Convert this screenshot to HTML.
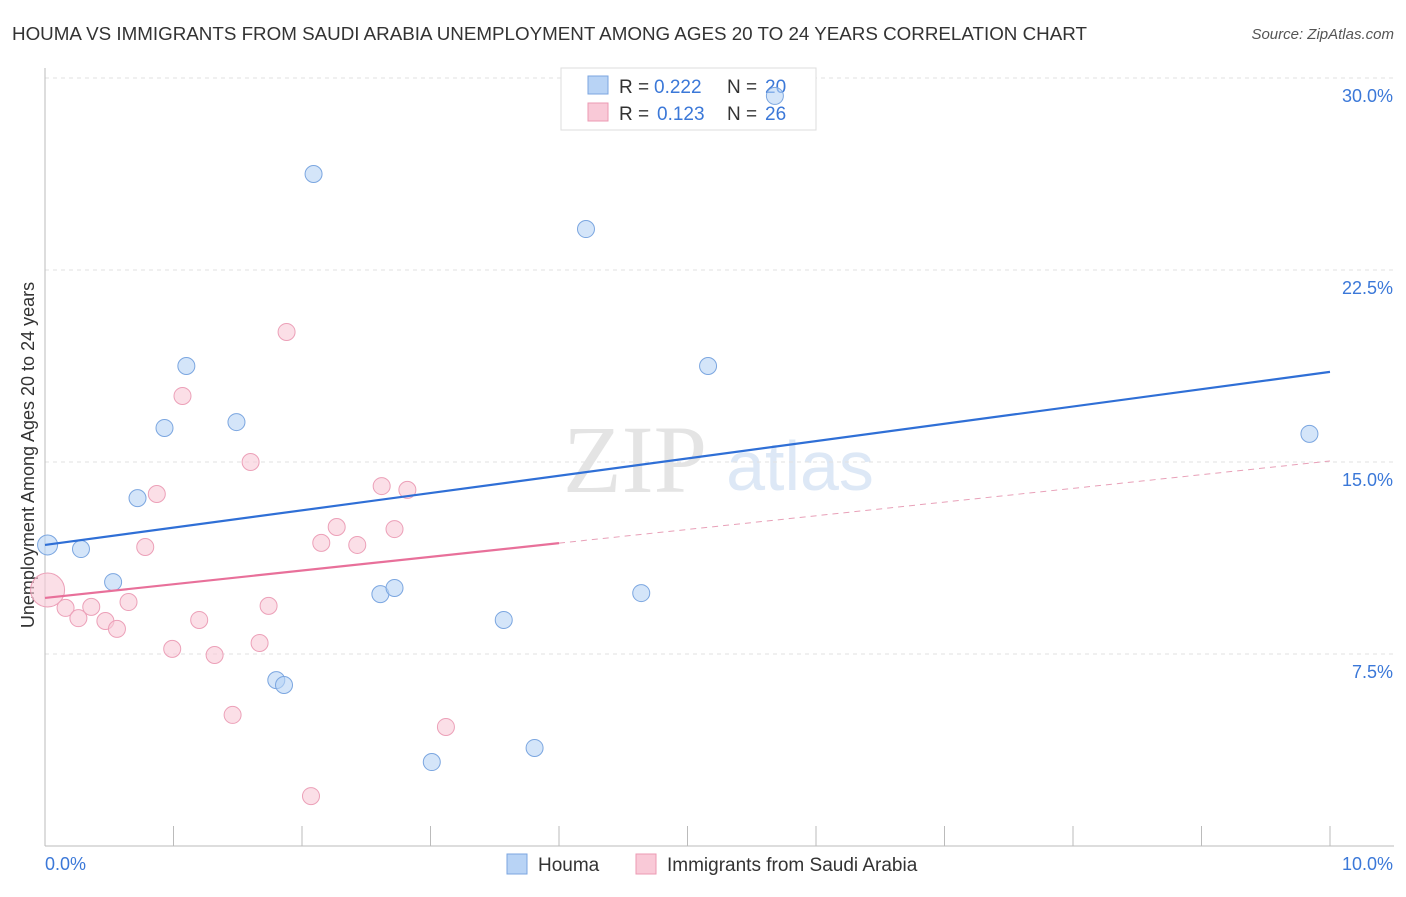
<!DOCTYPE html>
<html><head><meta charset="utf-8"><style>
body{margin:0;background:#fff;font-family:"Liberation Sans",sans-serif}
</style></head><body>
<svg id="c" width="1406" height="892" xmlns="http://www.w3.org/2000/svg">
<text x="12" y="40" font-size="18.8" fill="#333">HOUMA VS IMMIGRANTS FROM SAUDI ARABIA UNEMPLOYMENT AMONG AGES 20 TO 24 YEARS CORRELATION CHART</text>
<text x="1394" y="39" font-size="15" fill="#555" font-style="italic" text-anchor="end">Source: ZipAtlas.com</text>
<text x="635" y="492" font-size="96" fill="#e4e4e4" font-family="Liberation Serif" text-anchor="middle">ZIP</text>
<text x="800" y="490" font-size="70" fill="#dde8f6" text-anchor="middle">atlas</text>
<text transform="translate(34,455) rotate(-90)" font-size="18" fill="#333" text-anchor="middle">Unemployment Among Ages 20 to 24 years</text>
<g id="grid"></g>
<g>
<rect x="561" y="68" width="255" height="62" fill="#fff" stroke="#ddd"/>
<rect x="588" y="76" width="20" height="18" fill="#b8d3f5" stroke="#7ba6e0"/>
<text x="619" y="93" font-size="19" fill="#333">R =</text>
<text x="654" y="93" font-size="19" fill="#3b78d8">0.222</text>
<text x="727" y="93" font-size="19" fill="#333">N =</text>
<text x="765" y="93" font-size="19" fill="#3b78d8">20</text>
<rect x="588" y="103" width="20" height="18" fill="#f9c9d7" stroke="#ec9ab3"/>
<text x="619" y="120" font-size="19" fill="#333">R =</text>
<text x="657" y="120" font-size="19" fill="#3b78d8">0.123</text>
<text x="727" y="120" font-size="19" fill="#333">N =</text>
<text x="765" y="120" font-size="19" fill="#3b78d8">26</text>
</g>
<g id="marks"></g>
<g>
<rect x="507" y="854" width="20" height="20" fill="#b8d3f5" stroke="#7ba6e0"/>
<text x="538" y="871" font-size="19" fill="#333">Houma</text>
<rect x="636" y="854" width="20" height="20" fill="#f9c9d7" stroke="#ec9ab3"/>
<text x="667" y="871" font-size="19" fill="#333">Immigrants from Saudi Arabia</text>
</g>
</svg>
<script>
const houmaX=[0.02,0.28,0.53,0.72,0.93,1.1,1.49,1.8,1.86,2.09,2.61,2.72,3.01,3.57,3.81,4.21,4.64,5.16,5.68,9.84];
const houmaY=[11.76,11.6,10.31,13.59,16.33,18.75,16.56,6.48,6.29,26.25,9.84,10.08,3.28,8.83,3.83,24.1,9.88,18.75,29.3,16.1];
const saudiX=[0.02,0.16,0.26,0.36,0.47,0.56,0.65,0.78,0.87,0.99,1.07,1.2,1.32,1.46,1.6,1.67,1.74,1.88,2.07,2.15,2.27,2.43,2.62,2.72,2.82,3.12];
const saudiY=[10.0,9.3,8.9,9.34,8.79,8.48,9.53,11.68,13.75,7.7,17.58,8.83,7.46,5.12,15.0,7.93,9.38,20.08,1.95,11.84,12.46,11.76,14.06,12.38,13.91,4.65];
const houmaTrend=[11.76,18.52];
const saudiTrend=[9.69,15.04];
const yTicks=[7.5,15,22.5,30];
const xTickVals=[0,1,2,3,4,5,6,7,8,9,10];
const X=v=>45+v*128.5, Y=v=>846-v*25.6;
const NS="http://www.w3.org/2000/svg";
function mk(p,t,a){const e=document.createElementNS(NS,t);for(const k in a)e.setAttribute(k,a[k]);p.appendChild(e);return e;}
const g=document.getElementById('grid'), m=document.getElementById('marks');
for(const t of yTicks){
 const l=mk(g,'line',{x1:45,x2:1394,y1:Y(t),y2:Y(t),stroke:'#e2e2e2','stroke-dasharray':'4,4'});
 
 
 const tx=mk(g,'text',{x:1393,y:Y(t)+24,'font-size':18,fill:'#3b78d8','text-anchor':'end'});
 tx.textContent=t.toFixed(1)+'%';
 
 
}
const ax=mk(g,'line',{x1:45,x2:45,y1:68,y2:846,stroke:'#bbb'});


const bx=mk(g,'line',{x1:45,x2:1394,y1:846,y2:846,stroke:'#bbb'});


for(const t of xTickVals){
 const l=mk(g,'line',{x1:X(t),x2:X(t),y1:826,y2:846,stroke:'#bbb'});
 
 
}
[[0,'0.0%',45,'start'],[10,'10.0%',1393,'end']].forEach(a=>{
 const tx=mk(g,'text',{x:a[2],y:870,'font-size':18,fill:'#3b78d8','text-anchor':a[3]});
 tx.textContent=a[1];
 
 
});
saudiX.forEach((x,i)=>{
 const c=mk(m,'circle',{cx:X(x),cy:Y(saudiY[i]),r:i==0?17:8.5,fill:'rgba(249,201,215,0.6)',stroke:'#eca0b8','stroke-width':1});
 
 
});
houmaX.forEach((x,i)=>{
 const c=mk(m,'circle',{cx:X(x),cy:Y(houmaY[i]),r:i==0?10:8.5,fill:'rgba(184,211,245,0.6)',stroke:'#7ba6e0','stroke-width':1});
 
 
});
const hl=mk(m,'line',{x1:X(0),y1:Y(houmaTrend[0]),x2:X(10),y2:Y(houmaTrend[1]),stroke:'#2f6fd6','stroke-width':2.2});


const sAt=x=>saudiTrend[0]+(saudiTrend[1]-saudiTrend[0])*x/10;
const sl=mk(m,'line',{x1:X(0),y1:Y(sAt(0)),x2:X(4),y2:Y(sAt(4)),stroke:'#e8709a','stroke-width':2.2});


const sd=mk(m,'line',{x1:X(4),y1:Y(sAt(4)),x2:X(10),y2:Y(sAt(10)),stroke:'#e8a0b8','stroke-width':1,'stroke-dasharray':'6,5'});


</script>
</body></html>
